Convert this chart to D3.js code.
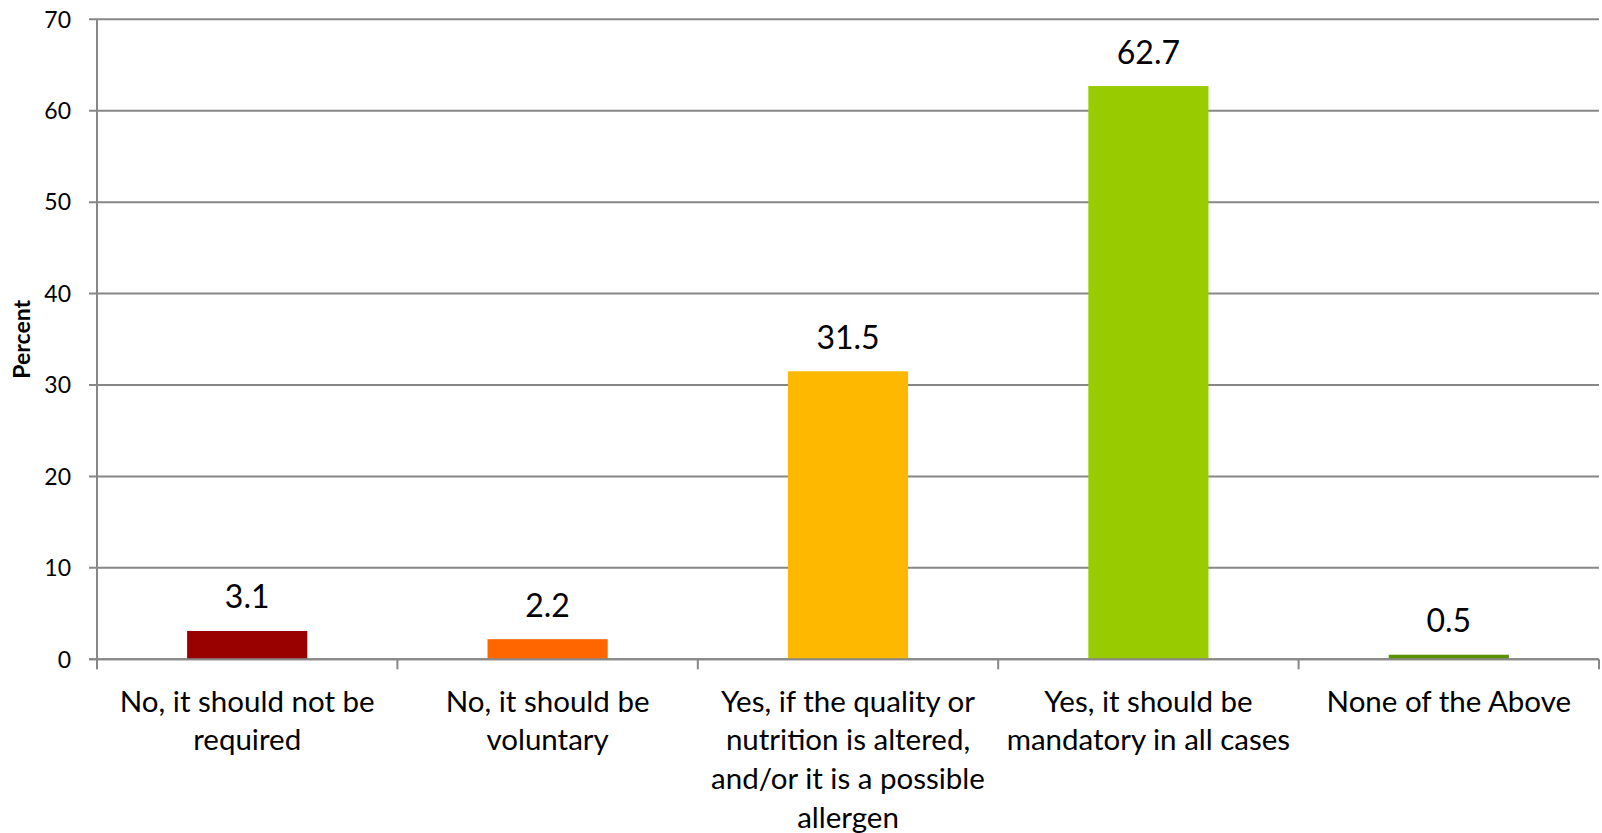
<!DOCTYPE html>
<html>
<head>
<meta charset="utf-8">
<script src="https://cdn.jsdelivr.net/npm/d3@7/dist/d3.min.js"></script>
<style>
  html, body { margin: 0; padding: 0; background: #fff; }
  svg { display: block; font-family: Lato, "Open Sans", sans-serif; }
</style>
</head>
<body>
<svg id="chart" width="1602" height="833"></svg>
<script>
const categories = [
  "No, it should not be\nrequired",
  "No, it should be\nvoluntary",
  "Yes, if the quality or\nnutrition is altered,\nand/or it is a possible\nallergen",
  "Yes, it should be\nmandatory in all cases",
  "None of the Above"
];
const values = [3.1, 2.2, 31.5, 62.7, 0.5];
const barColors = ["#990000", "#FF6600", "#FFB800", "#99CC00", "#5A9100"];
const yTicks = [0, 10, 20, 30, 40, 50, 60, 70];
const yTitle = "Percent";

(function () {
const svg = d3.select("#chart");
const pLeft = 97, pRight = 1599, pTop = 19.3, pBottom = 659.3;
const gridColor = "#878787";

const x = d3.scaleBand().domain(d3.range(categories.length))
  .range([pLeft, pRight]).paddingInner(0.6).paddingOuter(0.3);
const y = d3.scaleLinear().domain([0, 70]).range([pBottom, pTop]);

// gridlines
svg.append("g").selectAll("line").data(yTicks).join("line")
  .attr("x1", pLeft - 8).attr("x2", pRight)
  .attr("y1", d => y(d)).attr("y2", d => y(d))
  .attr("stroke", gridColor).attr("stroke-width", 2);

// y axis line
svg.append("line").attr("x1", pLeft).attr("x2", pLeft)
  .attr("y1", pTop).attr("y2", pBottom + 10)
  .attr("stroke", gridColor).attr("stroke-width", 2);

// category tick marks
const step = (pRight - pLeft) / categories.length;
svg.append("g").selectAll("line").data(d3.range(categories.length + 1)).join("line")
  .attr("x1", i => pLeft + i * step).attr("x2", i => pLeft + i * step)
  .attr("y1", pBottom).attr("y2", pBottom + 10)
  .attr("stroke", gridColor).attr("stroke-width", 2);

// y tick labels
svg.append("g").selectAll("text").data(yTicks).join("text")
  .attr("x", pLeft - 26).attr("y", d => y(d))
  .attr("dy", "0.36em").attr("text-anchor", "end")
  .attr("font-size", 23).attr("fill", "#000")
  .text(d => d);

// y title
svg.append("text")
  .attr("transform", `translate(22,${(pTop + pBottom) / 2}) rotate(-90)`)
  .attr("text-anchor", "middle").attr("dy", "0.36em")
  .attr("font-size", 23).attr("font-weight", "bold")
  .text(yTitle);

// bars
svg.append("g").selectAll("rect").data(values).join("rect")
  .attr("x", (d, i) => x(i)).attr("width", x.bandwidth())
  .attr("y", d => y(d)).attr("height", d => y(0) - y(d))
  .attr("fill", (d, i) => barColors[i]);

// zero line on top
svg.append("line").attr("x1", pLeft - 8).attr("x2", pRight)
  .attr("y1", y(0)).attr("y2", y(0))
  .attr("stroke", gridColor).attr("stroke-width", 2);

// value labels
svg.append("g").selectAll("text").data(values).join("text")
  .attr("x", (d, i) => x(i) + x.bandwidth() / 2)
  .attr("y", d => y(d) - 34).attr("dy", "0.36em")
  .attr("text-anchor", "middle").attr("font-size", 32).attr("fill", "#000")
  .text(d => d.toFixed(1));

// category labels
const cat = svg.append("g").selectAll("text").data(categories).join("text")
  .attr("text-anchor", "middle").attr("font-size", 29.5).attr("fill", "#000")
  .attr("x", (d, i) => x(i) + x.bandwidth() / 2);
cat.each(function (d) {
  const cx = d3.select(this).attr("x");
  d3.select(this).selectAll("tspan").data(d.split("\n")).join("tspan")
    .attr("x", cx)
    .attr("y", (l, j) => 701 + j * 38.8)
    .attr("dy", "0.36em")
    .text(l => l);
});
})();
</script>
</body>
</html>
